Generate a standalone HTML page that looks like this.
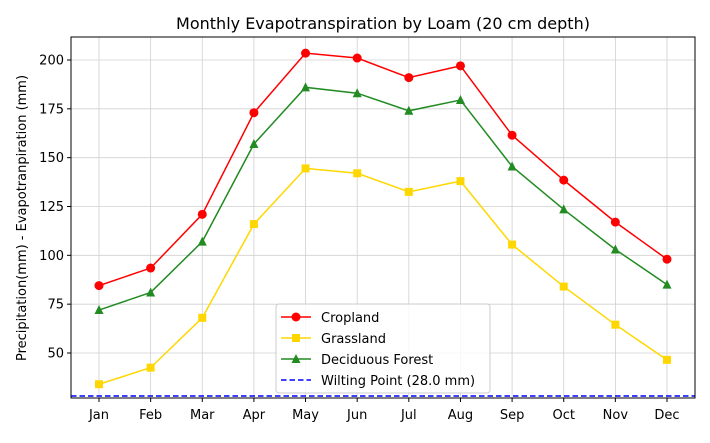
<!DOCTYPE html>
<html><head><meta charset="utf-8"><style>
body{margin:0;background:#fff}
svg text{font-family:"DejaVu Sans","Liberation Sans",sans-serif;fill:#000}
</style></head><body>
<svg id="chart" width="710" height="438" viewBox="0 0 710 438">
<text x="383" y="29" font-size="16" text-anchor="middle">Monthly Evapotranspiration by Loam (20 cm depth)</text>
<g id="grid"></g>
<g id="series"></g>
<rect x="71" y="37" width="624" height="361" fill="none" stroke="#000" stroke-width="1"/>
<g id="ticks"></g>
<text transform="translate(26,218) rotate(-90)" font-size="13" text-anchor="middle">Precipitation(mm) - Evapotranpiration (mm)</text>
<g>
<rect x="276" y="304" width="214" height="89" rx="3" fill="#fff" fill-opacity="0.8" stroke="#ccc"/>
<g><line x1="281" y1="317" x2="311" y2="317" stroke="red" stroke-width="1.5"/><circle cx="296" cy="317" r="4.5" fill="red"/><text x="321" y="322" font-size="13">Cropland</text></g>
<g><line x1="281" y1="338" x2="311" y2="338" stroke="gold" stroke-width="1.5"/><rect x="292" y="334" width="8" height="8" fill="gold"/><text x="321" y="343" font-size="13">Grassland</text></g>
<g><line x1="281" y1="359" x2="311" y2="359" stroke="forestgreen" stroke-width="1.5"/><polygon points="296,354 300.5,363 291.5,363" fill="forestgreen"/><text x="321" y="364" font-size="13">Deciduous Forest</text></g>
<g><line x1="281" y1="380" x2="311" y2="380" stroke="blue" stroke-width="1.5" stroke-dasharray="5.5,3"/><text x="321" y="385" font-size="13">Wilting Point (28.0 mm)</text></g>
</g>
</svg>
<script>
const months=["Jan","Feb","Mar","Apr","May","Jun","Jul","Aug","Sep","Oct","Nov","Dec"];
const cropland=[84.5,93.5,121,173,203.5,201,191,197,161.5,138.5,117,98];
const grassland=[34,42.5,68,116,144.5,142,132.5,138,105.5,84,64.5,46.5];
const deciduous=[72,81,107,157,186,183,174,179.5,145.5,123.5,103,85];
const wilting=28.0;
const yTicks=[50,75,100,125,150,175,200];
const NS="http://www.w3.org/2000/svg";
const x=i=>99+i*(667-99)/11;
const y=v=>353-(v-50)*(293/150);
function mk(tag,attrs,parent){const e=document.createElementNS(NS,tag);for(const k in attrs)e.setAttribute(k,attrs[k]);parent.appendChild(e);return e;}
const grid=document.getElementById('grid'),ticks=document.getElementById('ticks'),ser=document.getElementById('series');
months.forEach((m,i)=>{
 const g=mk('line',{x1:x(i),x2:x(i),y1:37,y2:398,stroke:'#d0d0d0','stroke-width':0.8},grid);
 
 
 mk('line',{x1:x(i),x2:x(i),y1:398,y2:402,stroke:'#000'},ticks);
 const t=mk('text',{x:x(i),y:419,'font-size':13,'text-anchor':'middle'},ticks);t.textContent=m;
 
 
});
yTicks.forEach(v=>{
 const g=mk('line',{x1:71,x2:695,y1:y(v),y2:y(v),stroke:'#d0d0d0','stroke-width':0.8},grid);
 
 
 mk('line',{x1:67,x2:71,y1:y(v),y2:y(v),stroke:'#000'},ticks);
 const t=mk('text',{x:64,y:y(v)+4.5,'font-size':13,'text-anchor':'end'},ticks);t.textContent=v;
 
 
});
const wl=mk('line',{x1:71,x2:695,y1:y(wilting),y2:y(wilting),stroke:'blue','stroke-width':1.5,'stroke-dasharray':'5.5,3'},ser);


function draw(data,color,shape,name){
 const g=mk('g',{},ser);
 
 
 mk('polyline',{points:data.map((v,i)=>x(i)+','+y(v)).join(' '),fill:'none',stroke:color,'stroke-width':1.5},g);
 data.forEach((v,i)=>{
  let m;
  if(shape==='c')m=mk('circle',{cx:x(i),cy:y(v),r:4.5,fill:color},g);
  else if(shape==='s')m=mk('rect',{x:x(i)-4,y:y(v)-4,width:8,height:8,fill:color},g);
  else m=mk('polygon',{points:`${x(i)},${y(v)-5} ${x(i)+4.5},${y(v)+4} ${x(i)-4.5},${y(v)+4}`,fill:color},g);
  
  
 });
}
draw(cropland,'red','c','cropland');
draw(grassland,'gold','s','grassland');
draw(deciduous,'forestgreen','t','deciduous-forest');
</script>
</body></html>
